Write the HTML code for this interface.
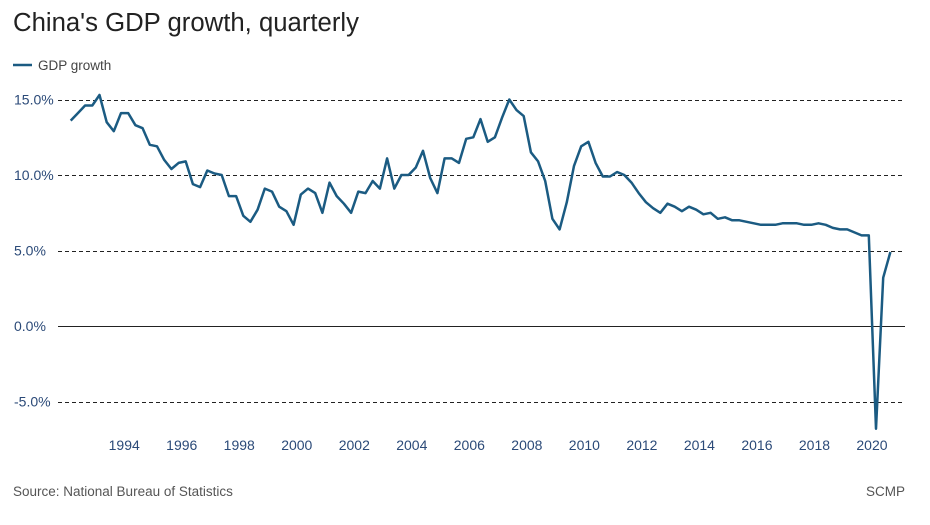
<!DOCTYPE html>
<html><head><meta charset="utf-8">
<style>
body{margin:0;background:#fff;width:930px;height:520px;overflow:hidden;font-family:"Liberation Sans",sans-serif;}
</style></head>
<body>
<svg width="930" height="520" xmlns="http://www.w3.org/2000/svg">
<text x="13" y="31" font-size="25.5" fill="#222" textLength="346" lengthAdjust="spacingAndGlyphs">China's GDP growth, quarterly</text>
<g>
<line x1="13" y1="65" x2="32" y2="65" stroke="#1b5b82" stroke-width="2.5"/>
<text x="38" y="70" font-size="13.5" fill="#444">GDP growth</text>
</g>
<g id="grid"></g>
<g id="ylabels"></g>
<g id="xlabels"></g>
<path id="line" fill="none" stroke="#1b5b82" stroke-width="2.5" stroke-linejoin="round"/>
<text x="13" y="496" font-size="13.5" fill="#555">Source: National Bureau of Statistics</text>
<text x="905" y="496" font-size="13.5" fill="#555" text-anchor="end">SCMP</text>
</svg>
<script>
const startYear = 1992;
const gdpGrowth = [
13.6,14.1,14.6,14.6,15.3,13.5,12.9,14.1,14.1,13.3,13.1,12.0,11.9,11.0,10.4,10.8,10.9,9.4,9.2,10.3,
10.1,10.0,8.6,8.6,7.3,6.9,7.7,9.1,8.9,7.9,7.6,6.7,8.7,9.1,8.8,7.5,9.5,8.6,8.1,7.5,
8.9,8.8,9.6,9.1,11.1,9.1,10.0,10.0,10.5,11.6,9.8,8.8,11.1,11.1,10.8,12.4,12.5,13.7,12.2,12.5,
13.8,15.0,14.3,13.9,11.5,10.9,9.6,7.1,6.4,8.2,10.6,11.9,12.2,10.8,9.9,9.9,10.2,10.0,9.5,8.8,
8.2,7.8,7.5,8.1,7.9,7.6,7.9,7.7,7.4,7.5,7.1,7.2,7.0,7.0,6.9,6.8,6.7,6.7,6.7,6.8,
6.8,6.8,6.7,6.7,6.8,6.7,6.5,6.4,6.4,6.2,6.0,6.0,-6.8,3.2,4.9];
const yTicks = [15,10,5,0,-5];
const yTickLabels = ["15.0%","10.0%","5.0%","0.0%","-5.0%"];
const xTickYears = [1994,1996,1998,2000,2002,2004,2006,2008,2010,2012,2014,2016,2018,2020];

const NS="http://www.w3.org/2000/svg";
function yS(v){return 326 - v*15.1;}
function xS(t){return 70.7 + (t-startYear)*28.76;}

const grid=document.getElementById('grid'), yl=document.getElementById('ylabels'), xl=document.getElementById('xlabels');
yTicks.forEach((v,k)=>{
  const l=document.createElementNS(NS,'line');
  const yy=Math.round(yS(v))+0.5;
  l.setAttribute('x1',58);l.setAttribute('x2',905);
  l.setAttribute('y1',yy);l.setAttribute('y2',yy);
  l.setAttribute('stroke', '#222');
  l.setAttribute('stroke-width', 1);
  if(v!==0) l.setAttribute('stroke-dasharray','4,3');
  
  
  grid.appendChild(l);
  const t=document.createElementNS(NS,'text');
  t.setAttribute('x',14);t.setAttribute('y',yS(v)+5);
  t.setAttribute('font-size','14');t.setAttribute('fill','#2b4a78');
  t.textContent=yTickLabels[k];
  
  
  yl.appendChild(t);
});
xTickYears.forEach(y=>{
  const t=document.createElementNS(NS,'text');
  t.setAttribute('x',xS(y)-4);t.setAttribute('y',450);
  t.setAttribute('font-size','14');t.setAttribute('fill','#2b4a78');
  t.setAttribute('text-anchor','middle');
  t.textContent=y;
  
  
  xl.appendChild(t);
});
let d='';
gdpGrowth.forEach((v,i)=>{d+=(i?'L':'M')+xS(startYear+i/4).toFixed(1)+','+yS(v).toFixed(1);});
document.getElementById('line').setAttribute('d',d);
</script>
</body></html>
